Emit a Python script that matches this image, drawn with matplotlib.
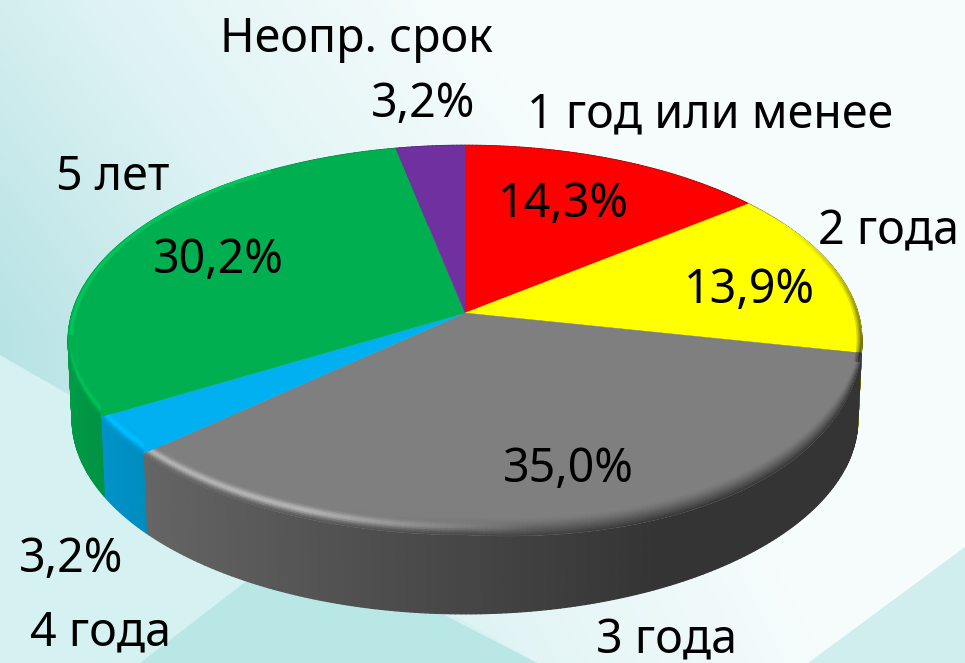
#!/usr/bin/env python3
"""3D pie of term shares, drawn with a perspective projection of the unit circle."""

import numpy as np
import matplotlib
matplotlib.use("Agg")
import matplotlib.pyplot as plt
from matplotlib.collections import PolyCollection
from matplotlib.colors import LinearSegmentedColormap, to_rgb
from matplotlib.patches import Polygon

CATEGORIES = ["1 год или менее", "2 года", "3 года", "4 года", "5 лет", "Неопр. срок"]
VALUES = [14.3, 13.9, 35.0, 3.2, 30.2, 3.2]
VALUE_LABELS = ["14,3%", "13,9%", "35,0%", "3,2%", "30,2%", "3,2%"]
COLORS = ["#ff0000", "#ffff00", "#7f7f7f", "#00b0f0", "#00b050", "#7030a0"]
HIGHLIGHT = [0.0, 0.0, 0.42, 0.14, 0.15, 0.0]

# label centre x, baseline y
NAME_POS = [(710, 127), (888, 244), (666, 653), (100, 645), (113, 190), (356, 52)]
VALUE_POS = [(563, 217), (749, 303), (568, 482), (71, 572), (218, 273), (423, 117)]

CX, CY = 465, 313
RX, RY, PERSP = 393, 191, 0.139
DEPTH = 79
BEVEL = 21
FONT = "Noto Sans"
FS = 33.5


def project(theta, r=1.0):
    # theta runs clockwise from the top of the pie
    u = r * np.sin(theta)
    v = r * np.cos(theta)
    w = 1 + PERSP * v
    return CX + RX * u / w, CY - RY * v / w


def project_side(theta, frac):
    x, y = project(theta)
    return CX + (x - CX) * (1 - 0.01 * frac), y + DEPTH * frac


def crease_drop(theta):
    # the crease sags a little below the rim on the lower right
    return 30 * np.clip(np.sin(theta), 0, 1) * np.clip(-np.cos(theta) - 0.2, 0, 1)


def shade(color, f):
    return np.clip(np.array(to_rgb(color)) * f, 0, 1)


def side_factor(theta):
    return float(np.clip(0.55 - 0.33 * np.sin(theta), 0.41, 0.9))


def draw_background(ax):
    cmap = LinearSegmentedColormap.from_list("bg", ["#b8e3e5", "#dff3f4", "#f6fcfc"])
    yy, xx = np.mgrid[0:1:300j, 0:1:300j]
    grad = 1.4 * xx + 0.7 * np.clip(0.5 - yy, 0, 1) - 0.5 * np.clip(yy - 0.6, 0, 1)
    ax.imshow(np.clip(grad, 0, 1), cmap=cmap, vmin=0, vmax=1, extent=(0, 965, 663, 0), aspect="auto", zorder=0)
    ax.add_patch(Polygon([(0, 355), (537, 663), (0, 663)], fc="#d6f1f1", ec="none", zorder=1))
    ax.add_patch(Polygon([(140, 663), (300, 540), (537, 663)], fc="#b9e7e6", ec="none", zorder=1))
    ax.add_patch(Polygon([(808, 663), (965, 547), (965, 663)], fc="#d0eeee", ec="none", zorder=1))


def draw_pie(ax, edges):
    # side walls first, then the flat top over them
    quads, colors = [], []
    for color, a, b in zip(COLORS, edges[:-1], edges[1:]):
        t = np.linspace(a, b, max(int((b - a) * 90), 4))
        for t0, t1 in zip(t[:-1], t[1:]):
            quads.append([project_side(t0, 0), project_side(t1, 0), project_side(t1, 1), project_side(t0, 1)])
            colors.append(shade(color, side_factor(0.5 * (t0 + t1))))
    ax.add_collection(PolyCollection(quads, facecolors=colors, edgecolors=colors, linewidths=0.9, zorder=3))

    levels = np.linspace(0, 1, 13)
    for color, gain, a, b in zip(COLORS, HIGHLIGHT, edges[:-1], edges[1:]):
        t = np.linspace(a, b, max(int((b - a) * 60), 2))
        x, y = project(t)
        y = y + crease_drop(t)
        top = ax.fill(np.r_[CX, x], np.r_[CY, y], color=color, lw=0.3, zorder=4)[0]

        # rounded rim along the front half, clipped to the slice top
        quads, colors = [], []
        t = np.linspace(a, b, max(int((b - a) * 90), 4))
        for t0, t1 in zip(t[:-1], t[1:]):
            tm = 0.5 * (t0 + t1)
            if np.cos(tm) > -0.12:
                continue
            u = np.sin(tm)
            fade = np.clip((-0.12 - np.cos(tm)) / 0.2, 0, 1)
            side = shade(color, side_factor(tm))
            base = np.array(to_rgb(color))
            strength = gain * np.clip((0.15 - u) / 0.5, 0, 1)
            x0, y0 = project(t0)
            x1, y1 = project(t1)
            y0 += crease_drop(t0)
            y1 += crease_drop(t1)
            for p0, p1 in zip(levels[:-1], levels[1:]):
                p = 0.5 * (p0 + p1)
                quads.append([(x0, y0 - BEVEL * p0), (x1, y1 - BEVEL * p0), (x1, y1 - BEVEL * p1), (x0, y0 - BEVEL * p1)])
                mix = np.clip(1 - p / 0.85, 0, 1) ** 1.2 * fade
                rgb = base + (side - base) * mix
                glow = np.exp(-((p - 0.42) / 0.2) ** 2) * strength * fade
                colors.append(np.clip(base + (rgb - base) * (1 - glow * 2.5).clip(0, 1) + base * glow, 0, 1))
        if quads:
            rim = PolyCollection(quads, facecolors=colors, edgecolors=colors, linewidths=0.6, zorder=5)
            ax.add_collection(rim)
            rim.set_clip_path(top)

        # narrow inner band where the rim turns away on the right
        quads, colors = [], []
        for t0, t1 in zip(t[:-1], t[1:]):
            tm = 0.5 * (t0 + t1)
            if np.sin(tm) < 0 or np.cos(tm) > 0.5 or np.cos(tm) < -0.25:
                continue
            f = 1 + (side_factor(tm) - 1) * np.clip((0.5 - np.cos(tm)) / 0.7, 0, 1) * 1.0
            for r0, r1, k in [(0.988, 0.992, 0.35), (0.992, 0.996, 0.65), (0.996, 1.0, 1.0)]:
                quads.append([project(t0, r0), project(t1, r0), project(t1, r1), project(t0, r1)])
                colors.append(shade(color, 1 + (f - 1) * k))
        if quads:
            ax.add_collection(PolyCollection(quads, facecolors=colors, edgecolors=colors, linewidths=0.3, zorder=5))

    # thin light edge on the lit back-left of the pie
    for color, gain, a, b in zip(COLORS, HIGHLIGHT, edges[:-1], edges[1:]):
        if gain == 0:
            continue
        t = np.linspace(a, b, 60)
        t = t[(np.cos(t) >= -0.12) & (np.sin(t) < -0.55)]
        if len(t) > 1:
            x, y = project(t, 0.993)
            ax.plot(x, y, color=shade(color, 1 + gain * 0.8), lw=2.5, zorder=5, solid_capstyle="butt")


def main():
    fig = plt.figure(figsize=(9.65, 6.63), dpi=100)
    ax = fig.add_axes([0, 0, 1, 1])
    draw_background(ax)

    shares = np.array(VALUES) / sum(VALUES)
    edges = np.r_[0, np.cumsum(shares)] * 2 * np.pi
    draw_pie(ax, edges)
    ax.set_xlim(0, 965)
    ax.set_ylim(663, 0)
    ax.axis("off")

    for name, pos in zip(CATEGORIES, NAME_POS):
        ax.text(pos[0], pos[1], name, ha="center", va="baseline", fontsize=FS, family=FONT, color="#000000", zorder=6)
    for label, pos in zip(VALUE_LABELS, VALUE_POS):
        ax.text(pos[0], pos[1], label, ha="center", va="baseline", fontsize=FS, family=FONT, color="#000000", zorder=6)

    fig.savefig("out.png", dpi=100)
    plt.close(fig)


if __name__ == "__main__":
    main()
